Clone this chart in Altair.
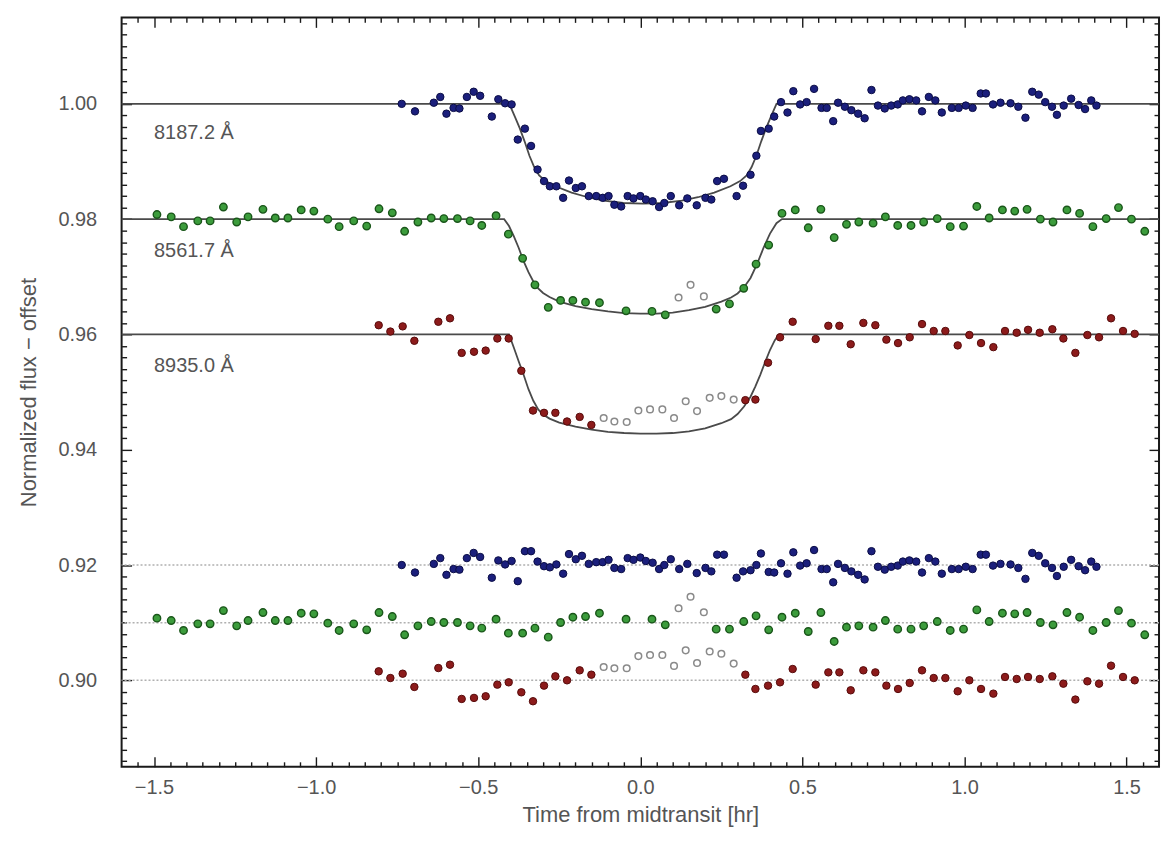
import altair as alt
import pandas as pd

# ---------------- data ----------------
blue_t = [-0.736, -0.695, -0.637, -0.617, -0.598, -0.576, -0.558, -0.535, -0.514, -0.494,
          -0.458, -0.438, -0.417, -0.397, -0.378, -0.356, -0.337, -0.317, -0.297, -0.279,
          -0.259, -0.238, -0.220, -0.199, -0.180, -0.159, -0.136, -0.116, -0.098, -0.080,
          -0.059, -0.039, -0.021, 0.000, 0.017, 0.038, 0.058, 0.074, 0.094, 0.120,
          0.145, 0.174, 0.201, 0.219, 0.237, 0.258, 0.297, 0.317, 0.340, 0.358,
          0.372, 0.396, 0.413, 0.434, 0.454, 0.472, 0.493, 0.513, 0.536, 0.559,
          0.575, 0.595, 0.610, 0.631, 0.651, 0.672, 0.692, 0.713, 0.733, 0.754,
          0.774, 0.794, 0.810, 0.830, 0.851, 0.869, 0.890, 0.910, 0.930, 0.961,
          0.982, 1.004, 1.025, 1.050, 1.066, 1.088, 1.111, 1.142, 1.166, 1.188,
          1.209, 1.229, 1.249, 1.270, 1.285, 1.306, 1.329, 1.352, 1.372, 1.391, 1.407]
blue_f = [1.0000, 0.9987, 1.0002, 1.0012, 0.9983, 0.9993, 0.9992, 1.0012, 1.0021, 1.0014,
          0.9978, 1.0008, 1.0001, 0.9999, 0.9938, 0.9957, 0.9927, 0.9886, 0.9866, 0.9857,
          0.9857, 0.9837, 0.9867, 0.9854, 0.9857, 0.9840, 0.9840, 0.9837, 0.9840, 0.9825,
          0.9822, 0.9840, 0.9836, 0.9840, 0.9834, 0.9831, 0.9821, 0.9828, 0.9840, 0.9824,
          0.9836, 0.9824, 0.9837, 0.9834, 0.9866, 0.9870, 0.9840, 0.9858, 0.9877, 0.9910,
          0.9953, 0.9957, 0.9978, 1.0003, 0.9985, 1.0022, 0.9999, 1.0003, 1.0026, 0.9993,
          0.9993, 0.9970, 1.0002, 0.9995, 0.9989, 0.9983, 0.9975, 1.0024, 0.9997, 0.9992,
          0.9997, 0.9999, 1.0006, 1.0008, 1.0006, 0.9987, 1.0012, 1.0006, 0.9985, 0.9993,
          0.9993, 0.9997, 0.9993, 1.0018, 1.0018, 0.9999, 1.0002, 1.0001, 0.9995, 0.9976,
          1.0021, 1.0016, 1.0003, 0.9995, 0.9981, 0.9997, 1.0009, 0.9998, 0.9991, 1.0006, 0.9997]
blue_res = [0.9200, 0.9187, 0.9202, 0.9212, 0.9183, 0.9193, 0.9192, 0.9212, 0.9221, 0.9214,
            0.9178, 0.9208, 0.9201, 0.9207, 0.9172, 0.9224, 0.9224, 0.9206, 0.9198, 0.9196,
            0.9201, 0.9185, 0.9219, 0.9210, 0.9216, 0.9202, 0.9205, 0.9205, 0.9209, 0.9195,
            0.9193, 0.9212, 0.9209, 0.9213, 0.9207, 0.9204, 0.9193, 0.9200, 0.9210, 0.9193,
            0.9202, 0.9186, 0.9195, 0.9189, 0.9218, 0.9218, 0.9178, 0.9189, 0.9191, 0.9200,
            0.9220, 0.9188, 0.9187, 0.9203, 0.9185, 0.9222, 0.9199, 0.9203, 0.9226, 0.9193,
            0.9193, 0.9170, 0.9202, 0.9195, 0.9189, 0.9183, 0.9175, 0.9224, 0.9197, 0.9192,
            0.9197, 0.9199, 0.9206, 0.9208, 0.9206, 0.9187, 0.9212, 0.9206, 0.9185, 0.9193,
            0.9193, 0.9197, 0.9193, 0.9218, 0.9218, 0.9199, 0.9202, 0.9201, 0.9195, 0.9176,
            0.9221, 0.9216, 0.9203, 0.9195, 0.9181, 0.9197, 0.9209, 0.9198, 0.9191, 0.9206, 0.9197]

green_t = [-1.491, -1.447, -1.409, -1.365, -1.327, -1.286, -1.245, -1.210, -1.164, -1.126,
           -1.087, -1.046, -1.007, -0.964, -0.929, -0.884, -0.844, -0.806, -0.765, -0.727,
           -0.686, -0.645, -0.606, -0.564, -0.525, -0.489, -0.445, -0.407, -0.363, -0.325,
           -0.284, -0.246, -0.208, -0.169, -0.126, -0.044, 0.036, 0.077, 0.234, 0.275,
           0.319, 0.357, 0.396, 0.437, 0.478, 0.518, 0.557, 0.598, 0.636, 0.674,
           0.718, 0.756, 0.794, 0.835, 0.874, 0.916, 0.956, 0.997, 1.038, 1.076,
           1.117, 1.155, 1.193, 1.234, 1.273, 1.316, 1.355, 1.396, 1.437, 1.475,
           1.515, 1.556]
green_f = [0.9808, 0.9804, 0.9787, 0.9797, 0.9797, 0.9821, 0.9795, 0.9804, 0.9817, 0.9802,
           0.9802, 0.9816, 0.9814, 0.9800, 0.9787, 0.9797, 0.9788, 0.9818, 0.9811, 0.9779,
           0.9795, 0.9802, 0.9801, 0.9801, 0.9797, 0.9789, 0.9806, 0.9774, 0.9732, 0.9686,
           0.9647, 0.9659, 0.9659, 0.9656, 0.9655, 0.9641, 0.9640, 0.9634, 0.9644, 0.9653,
           0.9680, 0.9722, 0.9755, 0.9810, 0.9816, 0.9785, 0.9817, 0.9768, 0.9791, 0.9795,
           0.9793, 0.9804, 0.9789, 0.9789, 0.9795, 0.9801, 0.9787, 0.9788, 0.9822, 0.9802,
           0.9816, 0.9814, 0.9817, 0.9800, 0.9795, 0.9816, 0.9810, 0.9787, 0.9801, 0.9820,
           0.9800, 0.9779]
green_res = [0.91078, 0.91037, 0.90865, 0.90980, 0.90980, 0.91210, 0.90945, 0.91037, 0.91176, 0.91037,
             0.91037, 0.91164, 0.91153, 0.90991, 0.90865, 0.90980, 0.90876, 0.91176, 0.91107, 0.90790,
             0.90945, 0.91020, 0.91003, 0.91003, 0.90945, 0.90905, 0.91061, 0.90818, 0.90818, 0.90905,
             0.90749, 0.91003, 0.91095, 0.91107, 0.91164, 0.91061, 0.91061, 0.90963, 0.90888, 0.90888,
             0.91020, 0.91118, 0.90876, 0.91095, 0.91164, 0.90847, 0.91176, 0.90674, 0.90922, 0.90945,
             0.90922, 0.91037, 0.90888, 0.90888, 0.90945, 0.91020, 0.90865, 0.90888, 0.91222, 0.91020,
             0.91164, 0.91153, 0.91176, 0.91003, 0.90963, 0.91176, 0.91095, 0.90865, 0.91003, 0.91210,
             0.90991, 0.90790]

red_t = [-0.807, -0.771, -0.733, -0.697, -0.623, -0.587, -0.551, -0.513, -0.477, -0.441,
         -0.406, -0.367, -0.331, -0.297, -0.262, -0.226, -0.187, -0.151, 0.324, 0.355,
         0.394, 0.431, 0.470, 0.541, 0.580, 0.614, 0.649, 0.688, 0.725, 0.759,
         0.795, 0.831, 0.869, 0.905, 0.941, 0.979, 1.015, 1.051, 1.089, 1.125,
         1.161, 1.196, 1.232, 1.271, 1.305, 1.342, 1.379, 1.415, 1.452, 1.489, 1.525]
red_f = [0.9616, 0.9605, 0.9614, 0.9589, 0.9622, 0.9628, 0.9568, 0.9570, 0.9572, 0.9593,
         0.9593, 0.9537, 0.9468, 0.9464, 0.9464, 0.9449, 0.9457, 0.9443, 0.9486, 0.9487,
         0.9551, 0.9595, 0.9622, 0.9592, 0.9615, 0.9615, 0.9583, 0.9620, 0.9616, 0.9591,
         0.9585, 0.9595, 0.9618, 0.9606, 0.9606, 0.9581, 0.9599, 0.9585, 0.9578, 0.9606,
         0.9603, 0.9608, 0.9603, 0.9609, 0.9593, 0.9568, 0.9599, 0.9595, 0.9628, 0.9606, 0.9601]
red_res = [0.90156, 0.90040, 0.90115, 0.89885, 0.90213, 0.90271, 0.89677, 0.89695, 0.89723, 0.89925,
           0.89965, 0.89792, 0.89637, 0.89908, 0.90069, 0.90000, 0.90173, 0.90098, 0.90098, 0.89850,
           0.89908, 0.89965, 0.90196, 0.89925, 0.90138, 0.90138, 0.89827, 0.90173, 0.90138, 0.89908,
           0.89850, 0.89954, 0.90173, 0.90040, 0.90040, 0.89810, 0.90000, 0.89850, 0.89769, 0.90058,
           0.90023, 0.90058, 0.90023, 0.90069, 0.89942, 0.89666, 0.89983, 0.89942, 0.90254, 0.90058, 0.90000]

# excluded (open grey) points
gray_t = [0.118, 0.155, 0.196,
          -0.113, -0.080, -0.042, -0.006, 0.030, 0.068, 0.104, 0.140, 0.175, 0.214, 0.250, 0.288]
gray_f = [0.9664, 0.9686, 0.9666,
          0.9455, 0.9449, 0.9448, 0.9468, 0.9470, 0.9470, 0.9455, 0.9484, 0.9467, 0.9490, 0.9493, 0.9487]
gray_res = [0.9125, 0.9145, 0.9118,
            0.9023, 0.9021, 0.9021, 0.9042, 0.9044, 0.9044, 0.9025, 0.9052, 0.9030, 0.9050, 0.9046, 0.9029]

# transit model curves
blue_model_t = [-1.6, -0.404, -0.387, -0.372, -0.357, -0.342, -0.327, -0.312, -0.292, -0.262,
                -0.212, -0.162, -0.112, -0.052, 0.008, 0.068, 0.128, 0.178, 0.228, 0.278,
                0.308, 0.328, 0.343, 0.358, 0.373, 0.388, 0.403, 0.420, 1.6]
blue_model_f = [1.0, 1.0, 0.9978, 0.9958, 0.9935, 0.9910, 0.9890, 0.9876, 0.9866, 0.9857,
                0.9846, 0.9838, 0.9832, 0.9828, 0.9827, 0.9828, 0.9832, 0.9838, 0.9846, 0.9857,
                0.9866, 0.9876, 0.9890, 0.9910, 0.9935, 0.9958, 0.9978, 1.0, 1.0]
green_model_t = [-1.6, -0.42, -0.405, -0.39, -0.375, -0.36, -0.345, -0.33, -0.315, -0.30,
                 -0.28, -0.25, -0.20, -0.15, -0.10, -0.05, 0.00, 0.05, 0.10, 0.15,
                 0.20, 0.25, 0.28, 0.30, 0.32, 0.34, 0.36, 0.38, 0.40, 0.42, 0.437, 1.6]
green_model_f = [0.980, 0.980, 0.9788, 0.9770, 0.9750, 0.9727, 0.9708, 0.9692, 0.9680, 0.9672,
                 0.9665, 0.9657, 0.9649, 0.9644, 0.9640, 0.9637, 0.9636, 0.9636, 0.9638, 0.9642,
                 0.9648, 0.9657, 0.9664, 0.9671, 0.9682, 0.9698, 0.9722, 0.9750, 0.9775, 0.9793,
                 0.980, 0.980]
red_model_t = [-1.6, -0.405, -0.39, -0.375, -0.36, -0.345, -0.33, -0.315, -0.30, -0.28,
               -0.25, -0.20, -0.15, -0.10, -0.05, 0.00, 0.05, 0.10, 0.15, 0.20,
               0.25, 0.28, 0.30, 0.32, 0.34, 0.355, 0.37, 0.385, 0.40, 0.415, 0.428, 1.6]
red_model_f = [0.960, 0.960, 0.9577, 0.9553, 0.9530, 0.9505, 0.9485, 0.9470, 0.9461, 0.9454,
               0.9447, 0.9440, 0.9435, 0.9431, 0.9429, 0.9428, 0.9428, 0.9429, 0.9432, 0.9437,
               0.9446, 0.9453, 0.9462, 0.9475, 0.9492, 0.9510, 0.9530, 0.9552, 0.9573, 0.9590,
               0.960, 0.960]

residual_levels = [0.92, 0.91, 0.90]
band_labels = ["8187.2 Å", "8561.7 Å", "8935.0 Å"]
band_label_t = [-1.50, -1.50, -1.50]
band_label_f = [0.9950, 0.9745, 0.9546]

x_major = [-1.5, -1.0, -0.5, 0.0, 0.5, 1.0, 1.5]
y_major = [0.90, 0.92, 0.94, 0.96, 0.98, 1.00]
x_minor = [v for v in (round(-1.55 + 0.05 * i, 2) for i in range(63))
           if abs(v * 2 - round(v * 2)) > 1e-6]
y_minor = [v for v in (round(0.886 + 0.002 * i, 3) for i in range(65))
           if abs(v * 50 - round(v * 50)) > 1e-6]

# ---------------- tables ----------------
blue_df = pd.DataFrame({"t": blue_t + blue_t, "f": blue_f + blue_res})
green_df = pd.DataFrame({"t": green_t + green_t, "f": green_f + green_res})
red_df = pd.DataFrame({"t": red_t + red_t, "f": red_f + red_res})
gray_df = pd.DataFrame({"t": gray_t + gray_t, "f": gray_f + gray_res})
model_df = pd.concat([
    pd.DataFrame({"t": blue_model_t, "f": blue_model_f, "band": "b"}),
    pd.DataFrame({"t": green_model_t, "f": green_model_f, "band": "g"}),
    pd.DataFrame({"t": red_model_t, "f": red_model_f, "band": "r"}),
])
level_df = pd.DataFrame({"level": residual_levels})
label_df = pd.DataFrame({"t": band_label_t, "f": band_label_f, "label": band_labels})

# ---------------- styling ----------------
FONT = "Liberation Sans"
TXT = "#555555"
TICK = "#1a1a1a"
W, H = 1041, 752
xs = alt.Scale(domain=[-1.6, 1.6], nice=False, zero=False)
ys = alt.Scale(domain=[0.885, 1.015], nice=False, zero=False)


def ax(orient, values, size, **extra):
    return alt.Axis(orient=orient, values=values, offset=-size, tickSize=size,
                    domain=False, grid=False, tickColor=TICK, tickWidth=1.4, **extra)


x_main = ax("bottom", x_major, 10,
            labelExpr="replace(format(datum.value, '.1f'), '-', '\u2212')",
            labelFont=FONT, labelFontSize=20, labelColor=TXT, labelPadding=11,
            labelFlush=False, labelOverlap=False,
            titleFont=FONT, titleFontSize=22, titleFontWeight="normal",
            titleColor=TXT, titlePadding=7)
y_main = ax("left", y_major, 10, format=".2f",
            labelFont=FONT, labelFontSize=20, labelColor=TXT, labelPadding=25,
            labelOverlap=False,
            titleFont=FONT, titleFontSize=22, titleFontWeight="normal",
            titleColor=TXT, titlePadding=17)
x_top = ax("top", x_major, 10, labels=False)
y_right = ax("right", y_major, 10, labels=False)
x_minor_b = ax("bottom", x_minor, 5, labels=False)
y_minor_l = ax("left", y_minor, 5, labels=False)
x_minor_t = ax("top", x_minor, 5, labels=False)
y_minor_r = ax("right", y_minor, 5, labels=False)

levels = alt.Chart(level_df).mark_rule(color="#b0b0b0", strokeWidth=1.5, strokeDash=[2, 2]).encode(
    y=alt.Y("level:Q", scale=ys, axis=None)
)

models = alt.Chart(model_df).mark_line(color="#4a4a4a", strokeWidth=1.8).encode(
    x=alt.X("t:Q", scale=xs, axis=None),
    y=alt.Y("f:Q", scale=ys, axis=None),
    detail="band:N",
)

blue = alt.Chart(blue_df).mark_circle(size=56, opacity=1, fill="#1b1f7c", stroke="#0b0d45", strokeWidth=1).encode(
    x=alt.X("t:Q", scale=xs, axis=x_main, title="Time from midtransit [hr]"),
    y=alt.Y("f:Q", scale=ys, axis=y_main, title="Normalized flux \u2212 offset"),
)
green = alt.Chart(green_df).mark_circle(size=56, opacity=1, fill="#3c9c3c", stroke="#1a561a", strokeWidth=1.4).encode(
    x=alt.X("t:Q", scale=xs, axis=x_top, title=None),
    y=alt.Y("f:Q", scale=ys, axis=y_right, title=None),
)
red = alt.Chart(red_df).mark_circle(size=56, opacity=1, fill="#8c1b1b", stroke="#560b0b", strokeWidth=1).encode(
    x=alt.X("t:Q", scale=xs, axis=x_minor_b, title=None),
    y=alt.Y("f:Q", scale=ys, axis=y_minor_l, title=None),
)
gray = alt.Chart(gray_df).mark_point(shape="circle", size=44, filled=False, opacity=1,
                                     color="#8a8a8a", strokeWidth=1.5).encode(
    x=alt.X("t:Q", scale=xs, axis=x_minor_t, title=None),
    y=alt.Y("f:Q", scale=ys, axis=y_minor_r, title=None),
)

labels = alt.Chart(label_df).mark_text(align="left", baseline="middle", font=FONT,
                                       fontSize=20, color=TXT).encode(
    x=alt.X("t:Q", scale=xs, axis=None),
    y=alt.Y("f:Q", scale=ys, axis=None),
    text="label:N",
)

chart = alt.layer(levels, models, blue, green, red, gray, labels).resolve_axis(
    x="independent", y="independent"
).properties(
    width=W, height=H,
    padding={"left": 114, "top": 8, "right": 4, "bottom": 60},
    autosize=alt.AutoSizeParams(type="none"),
    background="white",
).configure_view(stroke=TICK, strokeWidth=2)

chart.save("out.html", embed_options={"renderer": "svg", "actions": False})
